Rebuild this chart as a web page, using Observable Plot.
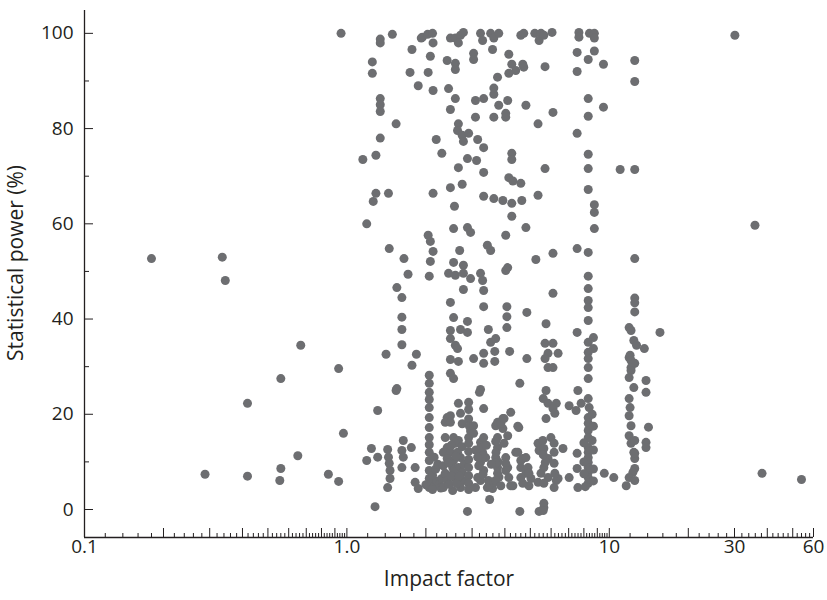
<!DOCTYPE html>
<html><head><meta charset="utf-8">
<script src="https://cdn.jsdelivr.net/npm/d3@7"></script>
<script src="https://cdn.jsdelivr.net/npm/@observablehq/plot@0.6"></script>
<style>body{margin:0;background:#fff}</style>
</head><body><div id="chart"></div>
<script>
// [impact factor, statistical power (%)]
const leftSparse = [[0.18,52.7],[0.288,7.4],[0.335,53],[0.344,48.1],[0.418,22.3],[0.418,7],[0.56,27.5],[0.56,8.6],[0.555,6.1],[0.65,11.3],[0.667,34.5],[0.85,7.4],[0.93,29.6],[0.93,5.9],[0.95,100],[0.97,16]];
const band1 = [[1.15,73.5],[1.19,60],[1.19,10.3],[1.24,12.8],[1.25,94],[1.25,91.6],[1.26,64.7],[1.28,0.6],[1.29,74.4],[1.29,66.4],[1.31,20.8],[1.31,11],[1.34,98.8],[1.34,98],[1.34,86.3],[1.34,85],[1.34,83.6],[1.34,78],[1.41,32.6],[1.43,12.6],[1.44,11],[1.45,9.7],[1.46,8.2],[1.46,6.5],[1.43,4.6],[1.44,66.4],[1.45,54.8],[1.49,99.8],[1.54,81],[1.54,25],[1.55,25.4],[1.55,46.6],[1.62,44.5],[1.62,40.4],[1.62,37.8],[1.62,34.6],[1.64,14.5],[1.62,12.4],[1.64,11],[1.62,8.8],[1.65,52.7],[1.71,49.4],[1.74,91.8],[1.76,13],[1.77,96.6],[1.77,30.3],[1.82,8.8],[1.82,5.7],[1.84,32.6],[1.87,89],[1.87,4.4],[1.92,99],[1.94,99.2]];
const band2 = [[2.03,99.8],[2.12,100],[2.13,98],[2.08,95.2],[2.04,91.8],[2.13,88],[2.19,77.7],[2.3,74.8],[2.13,66.4],[2.04,57.6],[2.08,56.3],[2.13,54.2],[2.08,52.1],[2.06,49],
[2.06,28.2],[2.06,26.5],[2.06,24.6],[2.06,23.1],[2.06,21.4],[2.06,19.3],[2.06,17.2],[2.06,15.1],[2.06,13.6],[2.06,12],[2.06,10.3],[2.06,8.2],[2.06,6.5],[2.06,4.6],
[2.0,5.2],[2.1,5.5],[2.15,4.8],[2.2,6],[2.12,7.2],[2.18,8.5],[2.25,5.2],[2.3,6.5],[2.22,9.5],[2.15,11],[2.28,4.5],[2.12,4.2]];
const band3 = [[2.48,99],[2.59,99],[2.71,99.6],[2.78,100.2],[2.66,98],[2.41,94.3],[2.59,93.7],[2.59,92.4],[2.44,88.4],[2.59,86.3],[2.48,84],[2.66,81],[2.64,79.6],[2.75,78.6],[2.78,77.3],[2.91,79],[2.88,73.7],[2.66,71.8],[2.48,67.6],[2.75,68.3],[2.57,63.7],[2.55,59],[2.88,59.2],[2.96,58.2],[2.69,54.4],[2.55,51.9],[2.78,51.3],[2.44,49.6],[2.59,49.2],[2.78,49.6],[2.96,48.5],[2.78,46.2],[2.48,43.5],[2.55,40.3],[2.88,39.5],[2.48,37.6],[2.71,37.8],[2.88,37.2],[2.48,35.9],[2.59,34.5],[2.64,33.8],[2.48,31.5],[2.66,31.1],[2.48,28.6],[2.55,27.5],[2.91,22.5],[2.66,22.3],[2.41,19.3],[2.48,19.7],[2.71,20.2],[2.75,18],[2.37,18.3],[2.48,18.3],[2.88,-0.4],[2.91,21],[2.91,19],[2.93,17.5],[2.96,16.5],
[2.37,15.1],[2.55,15.1],[2.66,14.5],[2.41,13],[2.59,13.9],[2.33,12],[2.48,12],[2.64,12],[2.41,10.7],[2.55,10.3],[2.71,10.9],[2.33,9.2],[2.53,8.8],[2.66,8.8],[2.37,7.6],[2.55,7.8],[2.75,7.8],[2.41,6.1],[2.59,6.5],[2.78,6.1],[2.33,4.6],[2.53,4],[2.71,4.6],[2.45,5.3],[2.62,5.5],[2.5,7],[2.68,7],[2.44,9.8],[2.6,11.2],[2.5,13.5],[2.75,13.2],[2.8,9.5],
[2.91,15.1],[2.91,13.9],[2.91,12.2],[2.91,10.5],[2.91,8.8],[2.91,7.1],[2.91,5.5],[2.91,4.2]];
const band4 = [[3.23,100],[3.29,98.5],[3.53,100],[3.63,99],[3.79,100],[3.59,96.6],[3.04,95.8],[3.04,94.5],[3.75,90.8],[3.09,85.9],[3.32,86.3],[3.63,87.2],[3.63,88.5],[3.79,84.9],[3.09,82.4],[3.63,82.4],[3.15,77.7],[3.32,76],[3.12,73.3],[3.32,70.8],[3.32,65.8],[3.63,65.3],[3.93,64.9],[3.43,55.5],[3.53,54.4],[3.23,49.6],[3.29,48.1],[3.32,46],[3.32,42.6],[3.46,37.8],[3.53,35.1],[3.69,35.9],[3.04,31.7],[3.32,32.8],[3.32,30.7],[3.66,33.2],[3.66,31.1],[3.2,24.6],[3.23,25.2],[3.32,21.2],[3.93,19.1],[3.69,17.6],[3.93,17],[3.04,17.6],[3.5,2.1],[3.75,18.3],[3.86,18.1],
[3.04,16],[3.23,14.1],[3.29,12],[3.23,9.9],[3.32,8.2],[3.23,6.1],[3.43,4.6],[3.59,4.4],[3.38,10.9],[3.15,6.7],[3.09,4.6],[3.32,15.1],[3.23,13],[3.29,11.3],[3.18,9.2],[3.3,7.4],[3.46,6.1],[3.5,5.3],[3.75,15.1],[3.75,13],[3.69,10.9],[3.75,8.8],[3.75,7.6],[3.63,5.7],[3.69,14.3],[3.7,12],[3.77,10],[3.69,9.7],[3.8,6.8],[3.69,6.1],[3.86,5],[3.97,13.9],[3.1,12.5],[3.15,11],[3.4,13.5],[3.55,9.5]];
const band5 = [[4.6,99.6],[4.72,100],[5.2,100],[5.49,100],[5.4,98.5],[5.63,99.6],[4.14,95.6],[4.25,93.5],[4.68,93.5],[4.4,92.2],[4.14,91.6],[4.72,92.9],[4.1,85.9],[4.03,83.2],[4.03,82.4],[4.81,84.9],[5.35,81],[4.25,74.8],[4.25,73.5],[4.14,69.7],[4.29,69],[4.6,68.5],[4.25,64.3],[4.64,64.9],[5.35,66],[4.25,61.6],[4.03,57.6],[4.81,59.2],[4.1,50.8],[5.25,52.5],[4.03,50.2],[4.07,42.6],[4.07,40.5],[4.07,38.2],[4.85,41.4],[4.17,33.2],[4.85,31.7],[4.56,26.5],[4.21,20.4],[4.52,17.2],[4.56,-0.4],[5.4,-0.4],[3.97,19.1],[4.1,15.5],[4.48,17.5],
[4.03,10.9],[4.1,8.8],[4.14,6.7],[4.29,5],[4.4,12],[4.68,10.7],[4.6,8.8],[4.81,7.6],[5.03,6.5],[4.94,5],[4.68,5.5],[5.35,13.9],[5.4,12.4],[4.48,12],[4.6,10.3],[4.81,10.9],[4.9,8.8],[4.94,7.6],[4.6,6.7],[4.03,9.7],[4.03,8.2],[4.21,5],[5.35,5.7],[5.49,7.6]];
const band6 = [[6.05,100.2],[5.69,93],[6.1,83.4],[5.69,71.6],[6.1,53.8],[6.1,45.4],[5.74,39],[5.69,34.9],[6.1,34.9],[5.84,32.8],[6.38,32.8],[5.69,31.7],[5.84,29.8],[6.1,29.8],[5.74,25],[5.6,23.3],[5.84,22.3],[6.28,22.3],[6.1,21.2],[6.2,20.2],[5.74,19.1],[7.03,21.8],[5.63,0.4],[5.63,1.3],[5.6,-0.2],
[5.58,14.5],[5.63,12.8],[5.99,15.1],[6.16,13.9],[6.16,12],[6.66,12.8],[5.84,10.7],[6.16,9.7],[5.63,8.8],[5.84,6.7],[6.28,6.1],[5.63,5.5],[6.16,4.6],[5.7,9.9],[6.38,6.5],[6.2,7.6],[5.6,11.5],[7.03,6.7],[7.54,11.8],[7.54,8.6],[7.59,4.6]];
const band7 = [[7.66,100.2],[7.66,99.2],[8.4,100],[8.77,100],[8.77,99],[7.54,96],[8.77,96.3],[8.31,94.5],[9.5,93.5],[7.54,92],[8.31,86.3],[9.5,84.5],[8.31,82.6],[7.54,79],[8.31,74.6],[8.31,71.6],[8.31,67.2],[8.77,64],[8.77,62.4],[8.77,59],[7.54,54.8],[8.31,54],[8.31,49],[8.31,46.4],[8.31,43.9],[8.31,42.4],[8.31,39.7],[7.54,37.2],[8.7,36.1],[8.31,35.1],[8.7,33.8],[8.31,33],[8.31,31.7],[8.31,29.8],[8.31,27.5],[7.59,25],[8.31,23.3],[7.47,20.8],[7.81,22.3],[8.38,21.4],
[8.31,19.3],[8.31,18.1],[8.31,16.6],[8.31,15.1],[8.31,13],[8.31,12],[8.31,10.9],[8.31,9.9],[8.31,8.8],[8.31,7.8],[8.31,6.7],[8.31,5.5],[8.0,14],[8.0,10],[8.0,7.5],[8.7,17.5],[8.7,12.5],[8.7,8.5],[8.7,6],[8.6,20],[8.6,14.5],[8.1,4.8],[9.57,7.6],[10.4,6.7]];
const band8 = [[11.0,71.4],[12.5,94.3],[12.5,89.9],[12.5,71.4],[12.5,52.7],[12.5,44.4],[12.5,43.4],[12.5,41.5],
[11.9,38.2],[12.1,37.6],[12.4,35.5],[12.7,34.5],[12.0,32.4],[11.9,31.9],[12.1,31.3],[12.5,30.7],[12.1,29.8],[12.1,29.2],[11.9,27.7],[12.4,25.6],[11.9,23.3],[12.0,21.4],[11.9,19.7],[12.1,17.6],[11.9,15.5],[12.1,13.9],[12.4,12],[12.5,10.7],[12.5,8.6],[12.3,7.8],[11.9,6.7],[11.6,5],[12.5,14.5],[12.5,11.8],[12.5,6.1],
[13.6,33.8],[13.8,27.1],[13.8,24.6],[14.1,17.3],[13.8,14.1],[13.8,13],[15.6,37.2]];
const rightSparse = [[30.1,99.6],[35.9,59.7],[38.2,7.6],[54,6.3]];

const xTickValues = [0.1, 1, 10, 30, 60];
const xTickLabels = ["0.1", "1.0", "10", "30", "60"];
const yTickValues = [0, 20, 40, 60, 80, 100];
const yMinorValues = [10, 30, 50, 70, 90];
const xDomain = [0.1, 60];
const yDomain = [-5.88, 104.8];

const points = [leftSparse, band1, band2, band3, band4, band5, band6, band7, band8, rightSparse]
  .flat().map(([impact, power]) => ({impact, power}));

// log-axis tick positions: minor every 0.02 / 0.2 / 2, major at each unit of the decade
const xMinor = [], xMajor = [];
[[0.1, 1, 0.02, 0.1], [1, 10, 0.2, 1], [10, 60, 2, 10]].forEach(([a, b, step, major]) => {
  const n = Math.round((b - a) / step);
  for (let i = 1; i <= n; i++) {
    const v = +(a + i * step).toFixed(4);
    const r = v / major;
    if (Math.abs(r - Math.round(r)) < 1e-6) xMajor.push(v); else xMinor.push(v);
  }
});

const W = 827, H = 600, mL = 84, mR = 14, mT = 10, mB = 63;
const frameW = W - mL - mR, frameH = H - mT - mB;
const ink = "#231f20";
const font = "'Open Sans', sans-serif";

const chart = Plot.plot({
  width: W, height: H,
  marginLeft: mL, marginRight: mR, marginTop: mT, marginBottom: mB,
  x: {type: "log", domain: xDomain, axis: null},
  y: {domain: yDomain, axis: null},
  style: {fontFamily: font, background: "#fff", overflow: "visible"},
  marks: [
    Plot.dot(points, {x: "impact", y: "power", r: 4.5, fill: "#6d6e71", stroke: "none"}),
    Plot.ruleX(xMinor, {x: d => d, insetTop: frameH - 4, stroke: ink, strokeWidth: 1}),
    Plot.ruleX(xMajor, {x: d => d, insetTop: frameH - 9, stroke: ink, strokeWidth: 1}),
    Plot.ruleY(yMinorValues, {y: d => d, insetRight: frameW - 5, stroke: ink, strokeWidth: 1}),
    Plot.ruleY(yTickValues, {y: d => d, insetRight: frameW - 9, stroke: ink, strokeWidth: 1}),
    Plot.ruleY([yDomain[0]], {stroke: ink, strokeWidth: 1.3}),
    Plot.ruleX([xDomain[0]], {stroke: ink, strokeWidth: 1.3}),
    Plot.text(xTickValues, {x: d => d, text: (d, i) => xTickLabels[i], frameAnchor: "bottom", dy: 15, fontSize: 19, fill: ink}),
    Plot.text(yTickValues, {y: d => d, text: d => String(d), frameAnchor: "left", dx: -11, textAnchor: "end", fontSize: 19, fill: ink}),
    Plot.text(["Impact factor"], {frameAnchor: "bottom", dy: 48, fontSize: 21, fill: ink}),
    Plot.text(["Statistical power (%)"], {frameAnchor: "left", dx: -68, dy: -11, rotate: -90, textAnchor: "middle", fontSize: 21, fill: ink})
  ]
});
document.getElementById("chart").appendChild(chart);
</script>
</body></html>
